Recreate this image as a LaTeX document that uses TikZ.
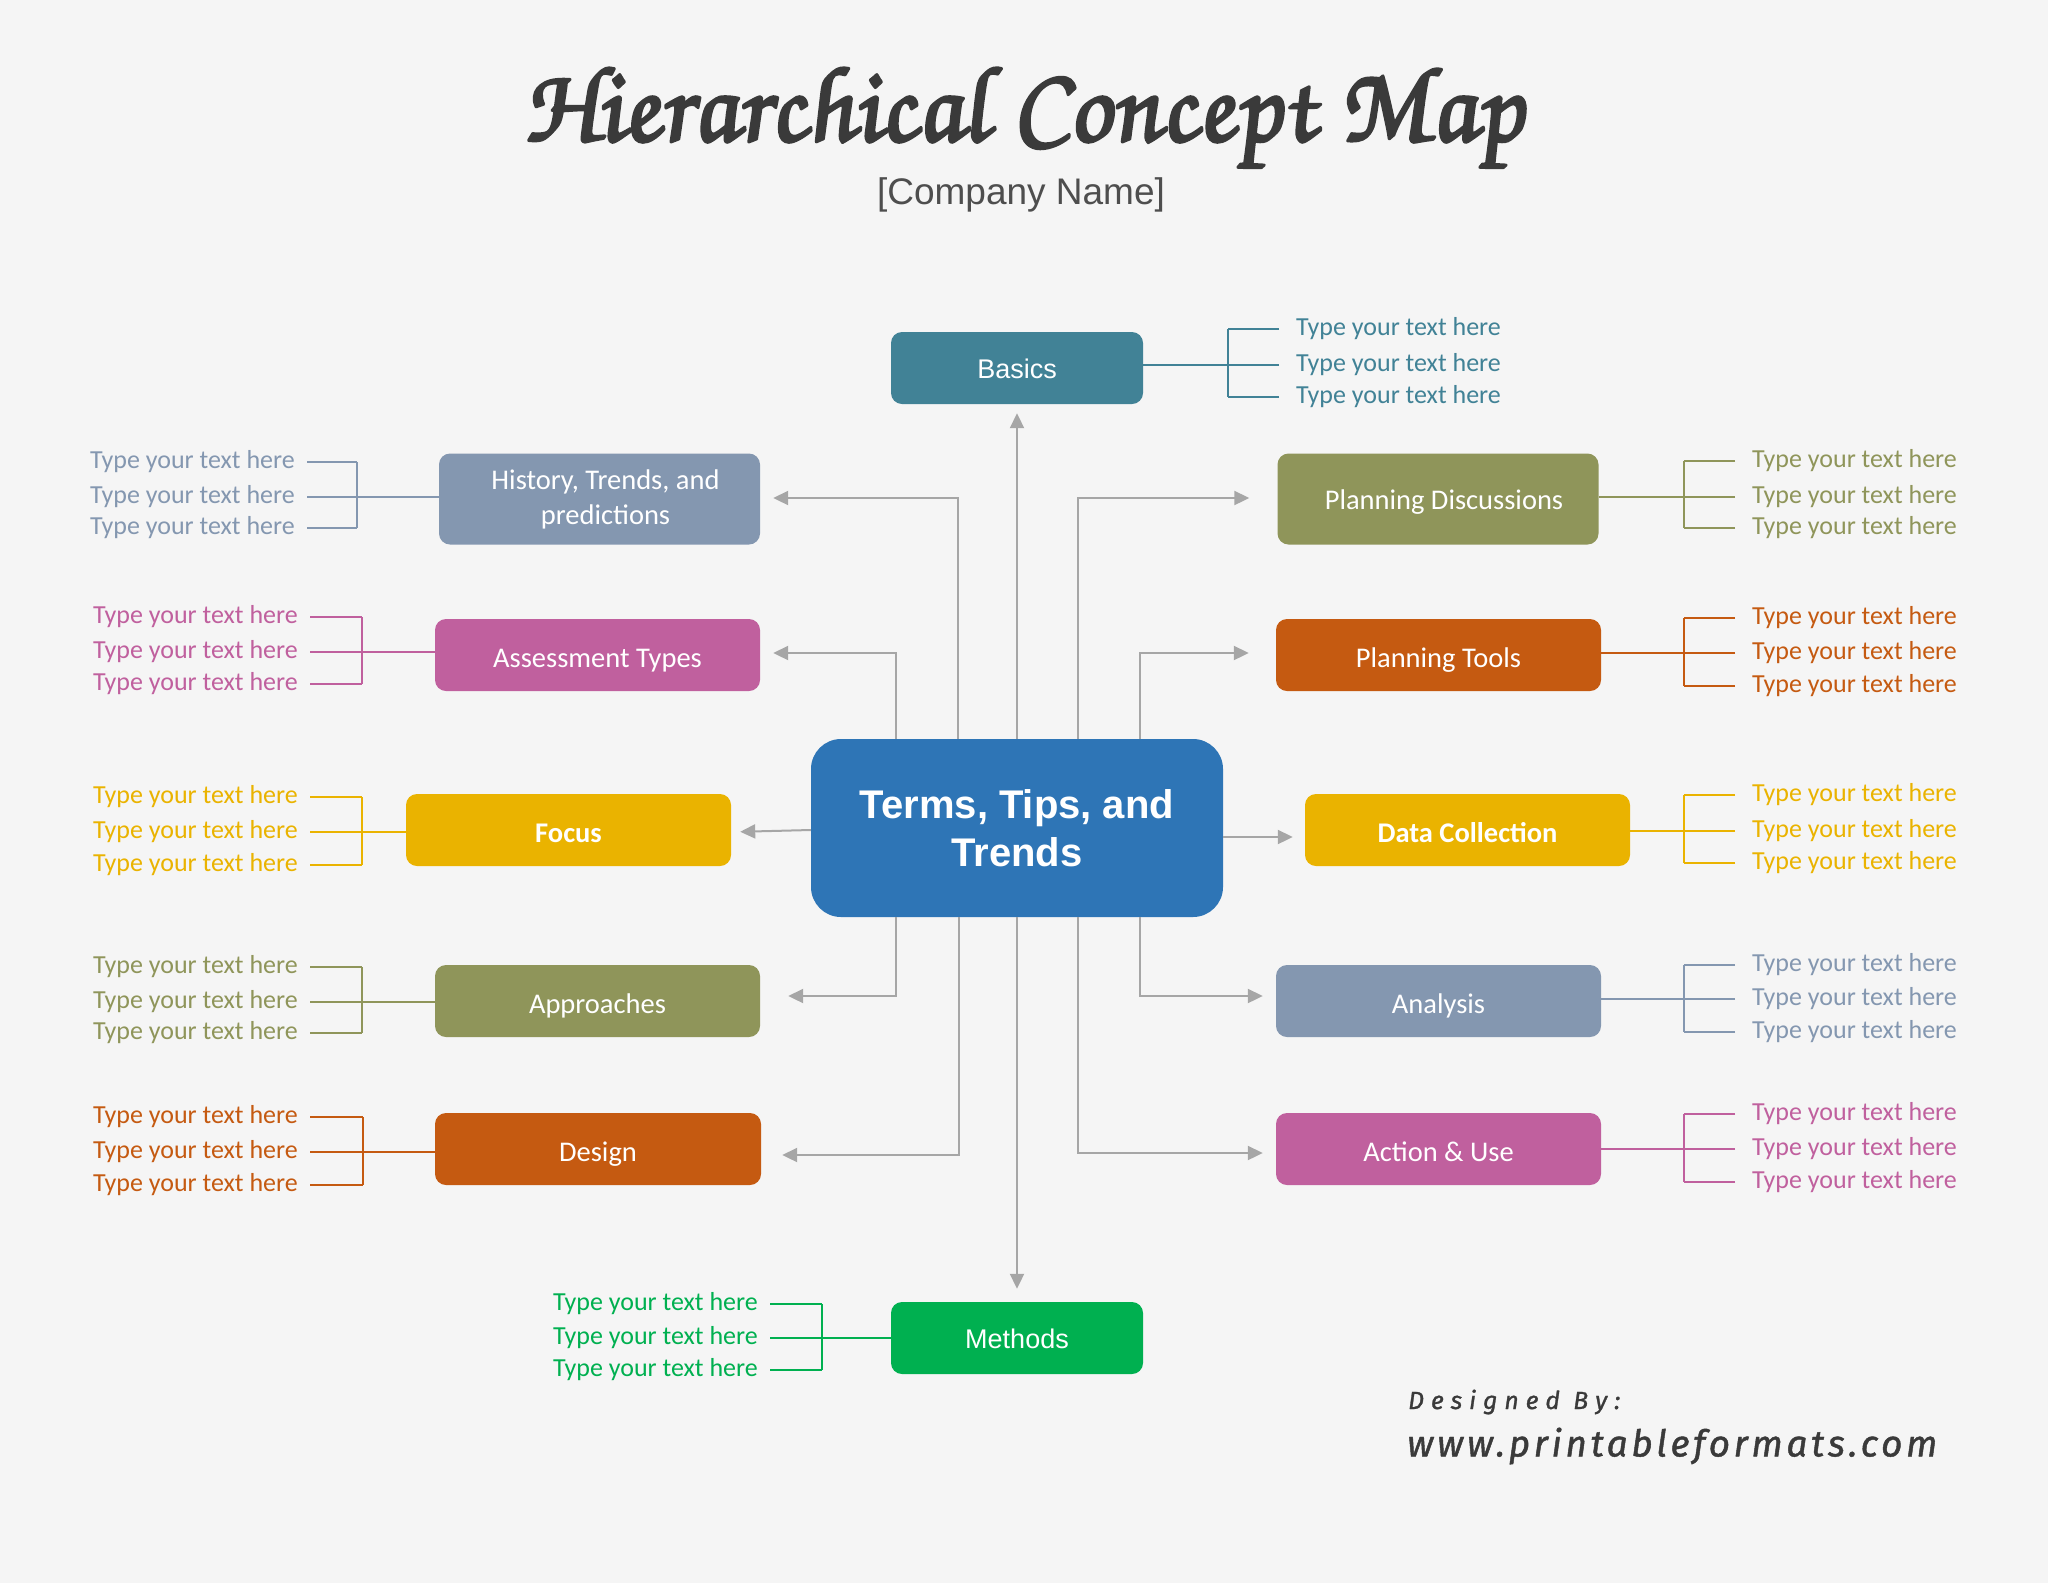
\documentclass[tikz,border=0pt]{standalone}
\usepackage[T1]{fontenc}
\usepackage{fontspec}
\usetikzlibrary{arrows.meta}
\setmainfont{Carlito}
\newfontfamily\arialf{Liberation Sans}
\newfontfamily\desf{Fira Sans}[LetterSpace=10,FakeBold=1.2]
\newfontfamily\desfb{Fira Sans}[LetterSpace=28,FakeBold=1.2]
\newcommand{\titlefont}{\fontencoding{T1}\fontfamily{pzc}\fontseries{mb}\fontshape{it}\fontsize{100}{100}\selectfont}
\newcommand{\thicktext}[1]{\special{pdf:literal direct 2 Tr 2.6 w 1 j}#1\special{pdf:literal direct 0 Tr}}
\definecolor{bgc}{RGB}{245,245,245}
\definecolor{cteal}{RGB}{65,130,150}
\definecolor{cslate}{RGB}{132,151,176}
\definecolor{cpink}{RGB}{192,96,158}
\definecolor{camber}{RGB}{234,179,0}
\definecolor{colive}{RGB}{143,149,90}
\definecolor{corange}{RGB}{197,90,17}
\definecolor{cgreen}{RGB}{0,176,80}
\definecolor{cblue}{RGB}{46,117,182}
\definecolor{cconn}{RGB}{166,166,166}
\definecolor{cdark}{RGB}{58,58,58}
\tikzset{
  box/.style={fill=#1, rounded corners=11pt, text=white, inner sep=0pt,
    minimum height=72pt, align=center, text height=26pt, text depth=1pt,
    font=\fontsize{28.5}{35}\selectfont},
  tallbox/.style={fill=#1, rounded corners=11pt, text=white, inner sep=0pt,
    minimum height=91pt, align=center,
    font=\fontsize{28.5}{35}\selectfont},
  lbl/.style={text=#1, inner sep=0pt, font=\fontsize{26}{30}\selectfont},
  brk/.style={draw=#1, line width=2.5pt},
  conn/.style={draw=cconn, line width=2pt, -{Triangle[length=15pt,width=14pt]}},
}
% left group: #1 box name, #2 colour, #3 vertical x, #4 line start x, #5-#7 row y
\newcommand{\leftgroup}[7]{%
  \node[lbl=#2, anchor=east] (#1t1) at (#4-12,#5) {Type your text here};
  \node[lbl=#2, anchor=east] (#1t2) at (#4-12,#6) {Type your text here};
  \node[lbl=#2, anchor=east] (#1t3) at (#4-12,#7) {Type your text here};
  \coordinate (#1v1) at (#3,#5);
  \coordinate (#1v2) at (#3,#6);
  \coordinate (#1v3) at (#3,#7);
  \draw[brk=#2, shorten <=12pt] (#1t1.east) -- (#1v1);
  \draw[brk=#2, shorten <=12pt] (#1t2.east) -- (#1v2);
  \draw[brk=#2, shorten <=12pt] (#1t3.east) -- (#1v3);
  \draw[brk=#2] (#1v1) -- (#1v3);
  \draw[brk=#2] (#1v2) -- (#1.west |- #1v2);
}
% right group: #1 box name, #2 colour, #3 vertical x, #4 line end x, #5-#7 row y
\newcommand{\rightgroup}[7]{%
  \node[lbl=#2, anchor=west] (#1t1) at (#4+17,#5) {Type your text here};
  \node[lbl=#2, anchor=west] (#1t2) at (#4+17,#6) {Type your text here};
  \node[lbl=#2, anchor=west] (#1t3) at (#4+17,#7) {Type your text here};
  \coordinate (#1v1) at (#3,#5);
  \coordinate (#1v2) at (#3,#6);
  \coordinate (#1v3) at (#3,#7);
  \draw[brk=#2, shorten <=17pt] (#1t1.west) -- (#1v1);
  \draw[brk=#2, shorten <=17pt] (#1t2.west) -- (#1v2);
  \draw[brk=#2, shorten <=17pt] (#1t3.west) -- (#1v3);
  \draw[brk=#2] (#1v1) -- (#1v3);
  \draw[brk=#2] (#1v2) -- (#1.east |- #1v2);
}
\begin{document}
\begin{tikzpicture}[x=1pt,y=-1pt]
\fill[bgc] (0,0) rectangle (2048,1583);
\useasboundingbox (0,0) rectangle (2048,1583);

% title
\node[anchor=base, text=cdark, inner sep=0pt, xslant=-0.12] (title) at (1025,141)
  {\resizebox{1000pt}{!}{\titlefont\thicktext{Hierarchical Concept Map}}};
\node[text=cdark!90, inner sep=0pt, font=\arialf\fontsize{37}{40}\selectfont]
  (company) at (1021,195) {[Company Name]};

% central
\node[fill=cblue, rounded corners=30pt, minimum width=412pt, minimum height=178pt,
  text=white, align=center, inner sep=0pt,
  font=\arialf\bfseries\fontsize{40}{48}\selectfont] (c) at (1017,828)
  {Terms, Tips, and\\Trends};

% top and bottom
\node[box=cteal, minimum width=252pt, text height=21pt, font=\arialf\fontsize{27}{32}\selectfont] (bas) at (1017,368) {Basics};
\node[box=cgreen, minimum width=252pt, text height=21pt, font=\arialf\fontsize{27}{32}\selectfont] (met) at (1017,1338) {Methods};

% left boxes
\node[tallbox=cslate, minimum width=321pt] (hist) at (599.5,499) {\hspace*{12pt}History, Trends, and\\\hspace*{12pt}predictions};
\node[box=cpink, minimum width=325pt] (asm) at (597.5,655) {Assessment Types};
\node[box=camber, minimum width=325pt, font=\bfseries\fontsize{28.5}{35}\selectfont] (foc) at (568.5,830) {Focus};
\node[box=colive, minimum width=325pt] (app) at (597.5,1001) {Approaches};
\node[box=corange, minimum width=326pt] (des) at (598,1149) {Design};

% right boxes
\node[tallbox=colive, minimum width=321pt, text height=22pt, text depth=1pt] (pd) at (1438,499) {\hspace*{12pt}Planning Discussions};
\node[box=corange, minimum width=325pt] (pt) at (1438.5,655) {Planning Tools};
\node[box=camber, minimum width=325pt, font=\bfseries\fontsize{28.5}{35}\selectfont] (dc) at (1467.5,830) {Data Collection};
\node[box=cslate, minimum width=325pt] (an) at (1438.5,1001) {Analysis};
\node[box=cpink, minimum width=325pt] (act) at (1438.5,1149) {Action \& Use};

% connectors
\draw[conn, shorten >=9pt] (c.north) -- (bas.south);
\draw[conn, shorten >=13pt] (c.south) -- (met.north);
\draw[conn, shorten >=13pt] ([xshift=-59pt]c.north) |- ([yshift=1pt]hist.east);
\draw[conn, shorten >=13pt] ([xshift=-121pt]c.north) |- ([yshift=2pt]asm.east);
\draw[conn, shorten >=9pt] ([yshift=-2pt]c.west) -- ([yshift=-2pt]foc.east);
\draw[conn, shorten >=28pt] ([xshift=-121pt]c.south) |- ([yshift=5pt]app.east);
\draw[conn, shorten >=21pt] ([xshift=-58pt]c.south) |- ([yshift=-6pt]des.east);
\draw[conn, shorten >=28pt] ([xshift=61pt]c.north) |- ([yshift=1pt]pd.west);
\draw[conn, shorten >=27pt] ([xshift=123pt]c.north) |- ([yshift=2pt]pt.west);
\draw[conn, shorten >=12pt] ([yshift=-9pt]c.east) -- ([yshift=-7pt]dc.west);
\draw[conn, shorten >=13pt] ([xshift=123pt]c.south) |- ([yshift=5pt]an.west);
\draw[conn, shorten >=13pt] ([xshift=61pt]c.south) |- ([yshift=-4pt]act.west);

% left brackets
\leftgroup{hist}{cslate}{357}{307}{462}{497}{528}
\leftgroup{asm}{cpink}{362}{310}{617}{652}{684}
\leftgroup{foc}{camber}{362}{310}{797}{832}{865}
\leftgroup{app}{colive}{362}{310}{967}{1002}{1033}
\leftgroup{des}{corange}{363}{310}{1117}{1152}{1185}

% right brackets
\rightgroup{pd}{colive}{1684}{1735}{461}{497}{528}
\rightgroup{pt}{corange}{1684}{1735}{618}{653}{686}
\rightgroup{dc}{camber}{1684}{1735}{795}{831}{863}
\rightgroup{an}{cslate}{1684}{1735}{965}{999}{1032}
\rightgroup{act}{cpink}{1684}{1735}{1114}{1149}{1182}

% basics bracket
\node[lbl=cteal, anchor=west] (bast1) at (1296,329) {Type your text here};
\node[lbl=cteal, anchor=west] (bast2) at (1296,365) {Type your text here};
\node[lbl=cteal, anchor=west] (bast3) at (1296,397) {Type your text here};
\coordinate (basv1) at (1228,329);
\coordinate (basv2) at (1228,365);
\coordinate (basv3) at (1228,397);
\draw[brk=cteal, shorten <=17pt] (bast1.west) -- (basv1);
\draw[brk=cteal, shorten <=17pt] (bast2.west) -- (basv2);
\draw[brk=cteal, shorten <=17pt] (bast3.west) -- (basv3);
\draw[brk=cteal] (basv1) -- (basv3);
\draw[brk=cteal] (basv2) -- (bas.east |- basv2);

% methods bracket
\leftgroup{met}{cgreen}{822}{770}{1304}{1338}{1370}

% designed by
\node[anchor=west, text=cdark, inner sep=0pt] (desby) at (1408,1402)
  {\resizebox{212pt}{!}{\desfb\itshape Designed By:}};
\node[anchor=west, text=cdark, inner sep=0pt] (www) at (1407,1446)
  {\resizebox{530pt}{!}{\desf\itshape www.printableformats.com}};
\end{tikzpicture}
\end{document}
